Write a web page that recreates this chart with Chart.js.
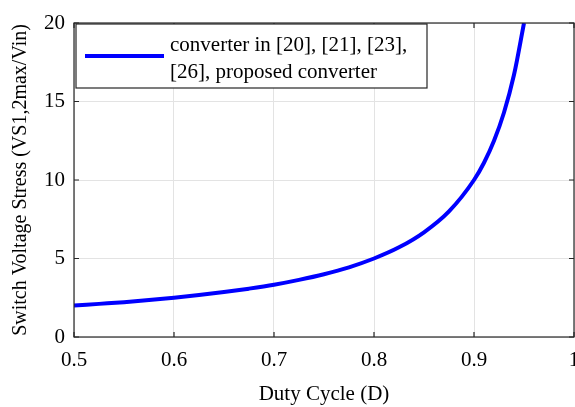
<!DOCTYPE html>
<html>
<head>
<meta charset="utf-8">
<script src="https://cdn.jsdelivr.net/npm/chart.js@4/dist/chart.umd.min.js"></script>
<style>
  html, body { margin: 0; padding: 0; background: #fff; }
  #wrap { width: 575px; height: 407px; }
</style>
</head>
<body>
<div id="wrap"><canvas id="lineChart" width="575" height="407"></canvas></div>
<script>
// values
var dutyCycle = [0.50, 0.525, 0.55, 0.575, 0.60, 0.625, 0.65, 0.675, 0.70, 0.725, 0.75, 0.775,
                 0.80, 0.825, 0.85, 0.875, 0.90, 0.91, 0.92, 0.93, 0.94, 0.95];
var stress    = [2.00, 2.11, 2.22, 2.35, 2.50, 2.67, 2.86, 3.08, 3.33, 3.64, 4.00, 4.44,
                 5.00, 5.71, 6.67, 8.00, 10.0, 11.1, 12.5, 14.3, 16.7, 20.0];
var xTicks = [0.5, 0.6, 0.7, 0.8, 0.9, 1];
var yTicks = [0, 5, 10, 15, 20];
var legendLines = ["converter in [20], [21], [23],", "[26], proposed converter"];

var FONT = "'Liberation Serif', 'Times New Roman', serif";

var points = [];
for (var i = 0; i < dutyCycle.length; i++) {
  points.push({x: dutyCycle[i], y: stress[i]});
}

// MATLAB style box, inward ticks and the legend box
var matlabBox = {
  id: 'matlabBox',
  afterDraw: function (chart) {
    var ctx = chart.ctx, a = chart.chartArea;
    var xs = chart.scales.x, ys = chart.scales.y;
    ctx.save();
    ctx.strokeStyle = '#262626';
    ctx.lineWidth = 1.2;
    ctx.strokeRect(a.left, a.top, a.right - a.left, a.bottom - a.top);
    ctx.beginPath();
    xTicks.forEach(function (t) {
      var px = xs.getPixelForValue(t);
      ctx.moveTo(px, a.bottom); ctx.lineTo(px, a.bottom - 5);
      ctx.moveTo(px, a.top); ctx.lineTo(px, a.top + 5);
    });
    yTicks.forEach(function (t) {
      var py = ys.getPixelForValue(t);
      ctx.moveTo(a.left, py); ctx.lineTo(a.left + 5, py);
      ctx.moveTo(a.right, py); ctx.lineTo(a.right - 5, py);
    });
    ctx.stroke();

    // legend
    var lx = a.left + 2, ly = a.top + 1, lw = 351, lh = 64;
    ctx.fillStyle = '#fff';
    ctx.fillRect(lx, ly, lw, lh);
    ctx.strokeStyle = '#262626';
    ctx.lineWidth = 1.2;
    ctx.strokeRect(lx, ly, lw, lh);
    ctx.strokeStyle = '#0000ff';
    ctx.lineWidth = 4;
    ctx.beginPath();
    ctx.moveTo(lx + 9, ly + 32); ctx.lineTo(lx + 88, ly + 32);
    ctx.stroke();
    ctx.fillStyle = '#000';
    ctx.font = '21px ' + FONT;
    ctx.textBaseline = 'middle';
    ctx.fillText(legendLines[0], lx + 94, ly + 21);
    ctx.fillText(legendLines[1], lx + 94, ly + 48);
    ctx.restore();
  }
};

var chartDiv = document.getElementById('lineChart');
var myChart = new Chart(chartDiv, {
  type: 'line',
  data: {
    datasets: [{
      label: legendLines.join(' '),
      data: points,
      borderColor: '#0000ff',
      borderWidth: 4,
      pointRadius: 0,
      fill: false,
      cubicInterpolationMode: 'monotone'
    }]
  },
  options: {
    responsive: false,
    animation: false,
    layout: { padding: { top: 23, right: 1, left: 0, bottom: 0 } },
    plugins: { legend: { display: false }, tooltip: { enabled: false } },
    scales: {
      x: {
        type: 'linear',
        min: 0.5, max: 1,
        afterBuildTicks: function (s) { s.ticks = xTicks.map(function (v) { return {value: v}; }); },
        afterFit: function (s) { s.height = 70; s.paddingLeft = 0; s.paddingRight = 0; },
        grid: { color: '#e3e3e3', lineWidth: 1, drawTicks: false },
        border: { display: false },
        ticks: {
          color: '#000', padding: 11,
          font: { family: FONT, size: 21 },
          callback: function (v) { return String(v); }
        },
        title: {
          display: true, text: 'Duty Cycle (D)', color: '#000',
          font: { family: FONT, size: 21 }, padding: { top: 1, bottom: 0 }
        }
      },
      y: {
        min: 0, max: 20,
        afterBuildTicks: function (s) { s.ticks = yTicks.map(function (v) { return {value: v}; }); },
        afterFit: function (s) { s.width = 74; s.paddingTop = 0; s.paddingBottom = 0; },
        grid: { color: '#e3e3e3', lineWidth: 1, drawTicks: false },
        border: { display: false },
        ticks: {
          color: '#000', padding: 9,
          font: { family: FONT, size: 21 }
        },
        title: {
          display: true, text: 'Switch Voltage Stress (VS1,2max/Vin)', color: '#000',
          font: { family: FONT, size: 20 }, padding: { top: 9, bottom: 2 }
        }
      }
    }
  },
  plugins: [matlabBox]
});
</script>
</body>
</html>
